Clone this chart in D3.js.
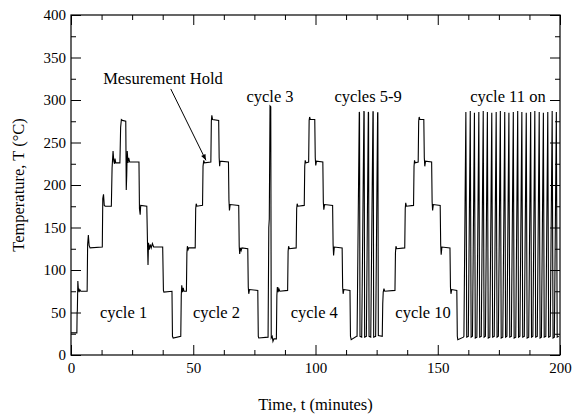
<!DOCTYPE html>
<html>
<head>
<meta charset="utf-8">
<script src="https://cdn.jsdelivr.net/npm/d3@7"></script>
<style>
  html, body { margin: 0; padding: 0; background: #fff; }
  svg { display: block; }
  svg text { font-family: "Liberation Serif", "Times New Roman", "DejaVu Serif", serif !important; fill: #000; }
</style>
</head>
<body>
<svg id="chart" width="573" height="416"></svg>
<script>
// ---------------- data (time in minutes, temperature in °C) ----------------
const cycle1 = [
  [0,26],[2.4,26],[2.5,50],[2.6,52],[2.8,87],[3.0,78],[3.3,74],[3.6,77],[4.0,75],[6.6,75],
  [6.8,130],[7.1,141],[7.4,129],[7.8,126],[12.8,127],
  [13.0,184],[13.3,189],[13.6,176],[14.0,175],[16.5,175],
  [16.8,220],[17.2,240],[17.5,228],[17.8,225],[18.0,231],[18.3,226],[20.0,226],
  [20.3,268],[20.6,277],[21.0,276],[22.4,275],
  [22.6,194],[22.8,212],[23.0,240],[23.3,226],[23.6,232],[24.0,227],[27.8,227],
  [28.0,172],[28.3,165],[28.5,176],[31.0,175],
  [31.3,130],[31.5,106],[31.7,132],[32.0,124],[32.4,130],[32.8,126],[33.3,131],[33.8,127],[37.5,127],
  [37.8,76],[38.0,74],[41.3,75],
  [41.5,22],[41.8,20],[44.9,22]
];
const cycle2 = [
  [45.1,70],[45.3,82],[45.6,74],[45.9,79],[46.2,75],[47.2,75],
  [47.4,120],[47.6,128],[47.9,124],[48.2,126],[50.8,126],
  [51.0,172],[51.2,178],[51.5,175],[53.8,176],
  [54.0,222],[54.3,229],[54.6,226],[57.2,227],
  [57.4,275],[57.6,282],[57.9,277],[60.4,276],
  [60.6,232],[60.8,222],[61.0,228],[64.4,227],
  [64.6,182],[64.8,170],[65.1,177],[68.6,176],
  [68.8,128],[69.0,119],[69.3,126],[69.6,123],[69.9,126],[72.3,125],
  [72.5,80],[72.7,72],[73.0,77],[76.4,76],
  [76.6,22],[76.8,20],[80.6,21]
];
const cycle3 = [
  [80.9,150],[81.1,160],[81.4,293],[81.7,292],[81.9,20]
];
const cycle4 = [
  [82.3,22],[82.6,16],[83.0,19],[84.0,19],
  [84.2,70],[84.4,80],[84.7,74],[85.0,78],[85.4,75],[88.6,76],
  [88.8,122],[89.0,128],[89.3,125],[92.1,126],
  [92.3,172],[92.5,178],[92.8,175],[95.4,176],
  [95.6,222],[95.8,229],[96.1,226],[97.2,227],
  [97.4,276],[97.6,280],[97.9,277],[99.7,277],
  [99.9,232],[100.1,223],[100.4,228],[103.0,227],
  [103.2,180],[103.4,171],[103.7,177],[107.0,176],
  [107.2,130],[107.4,117],[107.7,127],[110.9,126],
  [111.1,80],[111.3,72],[111.6,77],[114.1,76],
  [114.3,22],[114.6,18],[116.8,22]
];
const cycles5to9 = [
  [117.0,22],[117.9,286],[118.0,285],[118.2,22],
  [118.9,21],[119.8,287],[119.9,286],[120.1,21],
  [120.8,22],[121.6,286],[121.7,285],[121.9,22],
  [122.6,21],[123.5,286],[123.6,286],[123.8,21],
  [124.6,22],[125.4,285],[125.5,285],[125.7,23],
  [127.3,22]
];
const cycle10 = [
  [127.5,60],[127.7,74],[128.0,78],[128.3,75],[132.5,76],
  [132.7,120],[132.9,128],[133.2,125],[136.5,126],
  [136.7,172],[136.9,179],[137.2,175],[140.1,176],
  [140.3,222],[140.5,229],[140.8,226],[142.0,227],
  [142.2,275],[142.4,280],[142.7,277],[144.3,277],
  [144.5,232],[144.7,222],[145.0,228],[147.5,227],
  [147.7,180],[147.9,170],[148.2,177],[151.0,176],
  [151.2,130],[151.4,118],[151.7,127],[155.0,126],
  [155.2,80],[155.4,72],[155.7,77],[157.8,76],
  [158.0,22],[158.2,18],[160.5,21]
];
const cycle11on = [
  [160.7,22],[161.5,286],[161.85,21],
  [162.5,22],[163.3,287],[163.65,21],
  [164.2,22],[165.0,285],[165.35,20],
  [166.0,21],[166.8,286],[167.15,21],
  [167.8,22],[168.6,287],[168.95,21],
  [169.5,22],[170.3,286],[170.65,20],
  [171.3,21],[172.1,285],[172.45,21],
  [173.1,22],[173.9,286],[174.25,21],
  [174.8,22],[175.6,287],[175.95,20],
  [176.6,21],[177.4,286],[177.75,21],
  [178.3,22],[179.1,285],[179.45,21],
  [180.1,22],[180.9,286],[181.25,20],
  [181.9,21],[182.7,287],[183.05,21],
  [183.6,22],[184.4,286],[184.75,21],
  [185.4,22],[186.2,285],[186.55,20],
  [187.2,21],[188.0,286],[188.35,21],
  [188.9,22],[189.7,287],[190.05,21],
  [190.7,22],[191.5,286],[191.85,20],
  [192.4,21],[193.2,285],[193.55,21],
  [194.2,22],[195.0,286],[195.35,21],
  [196.0,22],[196.8,287],[197.15,20],
  [197.7,21],[198.5,286],[198.85,21],[199.5,22]
];

const xMajorTicks = [0, 50, 100, 150, 200];
const yMajorTicks = [0, 50, 100, 150, 200, 250, 300, 350, 400];
const xMinorStep = 12.5;
const yMinorStep = 25;

const labels = [
  {text: "cycle 1", t: 21.5, T: 43.5},
  {text: "cycle 2", t: 59.5, T: 43.5},
  {text: "cycle 3", t: 81.4, T: 297.5},
  {text: "cycle 4", t: 99.5, T: 43.5},
  {text: "cycles 5-9", t: 121.5, T: 297.5},
  {text: "cycle 10", t: 144, T: 43.5},
  {text: "cycle 11 on", t: 178.7, T: 297.5}
];
const annotation = {text: "Mesurement Hold", t: 37.6, T: 319, fromT: [40.8, 313], toT: [55.2, 229]};

// ---------------- layout ----------------
const series = [].concat(cycle1, cycle2, cycle3, cycle4, cycles5to9, cycle10, cycle11on);
const margin = {left: 71, right: 13, top: 15, bottom: 61};
const W = 573, H = 416;
const FONT = '"Liberation Serif", "Times New Roman", "DejaVu Serif", serif';
const svg = d3.select("#chart").attr("font-family", FONT);

const x = d3.scaleLinear().domain([0, 200]).range([margin.left, W - margin.right]);
const y = d3.scaleLinear().domain([0, 400]).range([H - margin.bottom, margin.top]);

const xMinor = d3.range(0, 200 + 1e-9, xMinorStep).filter(v => !xMajorTicks.includes(v));
const yMinor = d3.range(0, 400 + 1e-9, yMinorStep).filter(v => !yMajorTicks.includes(v));

const tickFont = 15;
const labelFont = 16.5;
const majorLen = 10, minorLen = 5;

// bottom axis (ticks inward)
svg.append("g").attr("transform", `translate(0,${y(0)})`)
  .call(d3.axisBottom(x).tickValues(xMajorTicks).tickSize(-majorLen).tickPadding(7).tickFormat(d3.format("d")));
svg.append("g").attr("transform", `translate(0,${y(0)})`)
  .call(d3.axisBottom(x).tickValues(xMinor).tickSize(-minorLen).tickFormat(""));
// top axis
svg.append("g").attr("transform", `translate(0,${y(400)})`)
  .call(d3.axisTop(x).tickValues(xMajorTicks).tickSize(-majorLen).tickFormat(""));
svg.append("g").attr("transform", `translate(0,${y(400)})`)
  .call(d3.axisTop(x).tickValues(xMinor).tickSize(-minorLen).tickFormat(""));
// left axis
svg.append("g").attr("transform", `translate(${x(0)},0)`)
  .call(d3.axisLeft(y).tickValues(yMajorTicks).tickSize(-majorLen).tickPadding(5).tickFormat(d3.format("d")));
svg.append("g").attr("transform", `translate(${x(0)},0)`)
  .call(d3.axisLeft(y).tickValues(yMinor).tickSize(-minorLen).tickFormat(""));
// right axis
svg.append("g").attr("transform", `translate(${x(200)},0)`)
  .call(d3.axisRight(y).tickValues(yMajorTicks).tickSize(-majorLen).tickFormat(""));
svg.append("g").attr("transform", `translate(${x(200)},0)`)
  .call(d3.axisRight(y).tickValues(yMinor).tickSize(-minorLen).tickFormat(""));

svg.selectAll("g").attr("font-family", FONT);
svg.selectAll(".domain").remove();
svg.selectAll(".tick line").attr("stroke", "#000").attr("stroke-width", 1);
svg.selectAll(".tick text")
  .attr("font-family", FONT)
  .attr("font-size", tickFont).attr("fill", "#000");

// frame
svg.append("rect")
  .attr("x", x(0)).attr("y", y(400))
  .attr("width", x(200) - x(0)).attr("height", y(0) - y(400))
  .attr("fill", "none").attr("stroke", "#000").attr("stroke-width", 1.2);

// data line
const line = d3.line().x(d => x(d[0])).y(d => y(d[1]));
svg.append("path")
  .datum(series)
  .attr("d", line)
  .attr("fill", "none")
  .attr("stroke", "#000")
  .attr("stroke-width", 1.1)
  .attr("stroke-linejoin", "miter");

// cycle labels
svg.selectAll("text.lab").data(labels).join("text")
  .attr("class", "lab")
  .attr("x", d => x(d.t)).attr("y", d => y(d.T))
  .attr("text-anchor", "middle")
  .attr("font-family", FONT)
  .attr("font-size", labelFont)
  .text(d => d.text);

// annotation + arrow
svg.append("defs").append("marker")
  .attr("id", "arrow").attr("viewBox", "0 0 10 10")
  .attr("refX", 10).attr("refY", 5)
  .attr("markerWidth", 8).attr("markerHeight", 6)
  .attr("markerUnits", "userSpaceOnUse")
  .attr("orient", "auto")
  .append("path").attr("d", "M0,1 L10,5 L0,9 z").attr("fill", "#000");

svg.append("text")
  .attr("x", x(annotation.t)).attr("y", y(annotation.T))
  .attr("text-anchor", "middle")
  .attr("font-family", FONT)
  .attr("font-size", labelFont)
  .text(annotation.text);
svg.append("line")
  .attr("x1", x(annotation.fromT[0])).attr("y1", y(annotation.fromT[1]))
  .attr("x2", x(annotation.toT[0])).attr("y2", y(annotation.toT[1]))
  .attr("stroke", "#000").attr("stroke-width", 1)
  .attr("marker-end", "url(#arrow)");

// axis titles
svg.append("text")
  .attr("x", (x(0) + x(200)) / 2).attr("y", 410)
  .attr("text-anchor", "middle")
  .attr("font-family", FONT)
  .attr("font-size", labelFont)
  .text("Time, t (minutes)");
svg.append("text")
  .attr("transform", `translate(24,${(y(0) + y(400)) / 2}) rotate(-90)`)
  .attr("text-anchor", "middle")
  .attr("font-family", FONT)
  .attr("font-size", labelFont)
  .text("Temperature, T (°C)");
</script>
</body>
</html>
